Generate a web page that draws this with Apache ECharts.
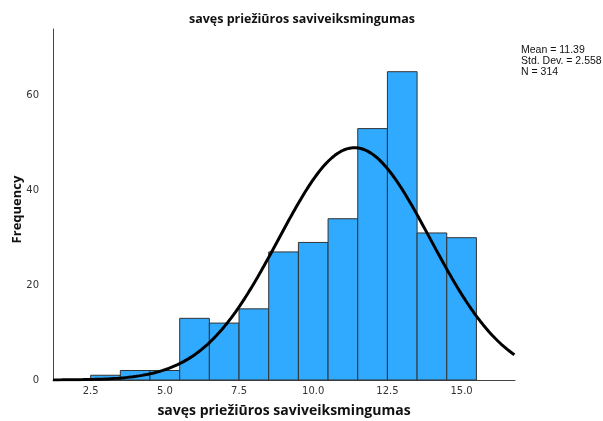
<!DOCTYPE html>
<html>
<head>
<meta charset="utf-8">
<script src="https://cdn.jsdelivr.net/npm/echarts@6/dist/echarts.min.js"></script>
<style>
  html, body { margin: 0; padding: 0; background: #fff; }
  #chart { width: 603px; height: 421px; }
</style>
</head>
<body>
<div id="chart"></div>
<script>
// Histogram bins (score ranges) and their frequencies
const binStarts = [2.5, 3.5, 4.5, 5.5, 6.5, 7.5, 8.5, 9.5, 10.5, 11.5, 12.5, 13.5, 14.5];
const binEnds   = [3.5, 4.5, 5.5, 6.5, 7.5, 8.5, 9.5, 10.5, 11.5, 12.5, 13.5, 14.5, 15.5];
const counts    = [1, 2, 2, 13, 12, 15, 27, 29, 34, 53, 65, 31, 30];

// Descriptive statistics shown beside the plot
const statMean = 11.39;
const statSd = 2.558;
const statN = 314;

const xTicks = [2.5, 5.0, 7.5, 10.0, 12.5, 15.0];
const yTicks = [0, 20, 40, 60];

const xMin = 1.23, xMax = 16.8;
const binWidth = 1;

// Fitted normal curve, scaled to the frequency axis (N * width * density)
const curve = [];
for (let x = xMin; x <= xMax + 1e-9; x += 0.05) {
  const z = (x - statMean) / statSd;
  const y = statN * binWidth * Math.exp(-0.5 * z * z) / (statSd * Math.sqrt(2 * Math.PI));
  curve.push([x, y]);
}

const bars = binStarts.map((s, i) => [s, binEnds[i], counts[i]]);

const chart = echarts.init(document.getElementById('chart'), null, { renderer: 'canvas' });
chart.setOption({
  animation: false,
  backgroundColor: '#fff',
  title: {
    text: 'savęs priežiūros saviveiksmingumas',
    left: 297, top: 8, textAlign: 'center',
    textStyle: { fontFamily: 'Open Sans', fontWeight: 'bold', fontSize: 12.5, color: '#111' }
  },
  grid: { left: 53, right: 88, top: 29, bottom: 41, outerBoundsMode: 'none', containLabel: false },
  xAxis: {
    type: 'value', min: xMin, max: xMax,
    name: 'savęs priežiūros saviveiksmingumas',
    nameLocation: 'middle', nameGap: 24,
    nameTextStyle: { fontFamily: 'Open Sans', fontWeight: 'bold', fontSize: 14, color: '#111' },
    axisLine: { show: true, onZero: false, lineStyle: { color: '#444', width: 1 } },
    axisTick: { show: false },
    splitLine: { show: false },
    axisLabel: {
      customValues: xTicks,
      formatter: v => v.toFixed(1),
      fontFamily: 'DejaVu Sans', fontSize: 10, color: '#333', margin: 6
    }
  },
  yAxis: {
    type: 'value', min: 0, max: 74,
    name: 'Frequency', nameLocation: 'middle', nameGap: 29, nameRotate: 90,
    nameMoveOverlap: false,
    nameTextStyle: { fontFamily: 'Open Sans', fontWeight: 'bold', fontSize: 13, color: '#111', padding: [0, 10, 0, 0] },
    axisLine: { show: true, lineStyle: { color: '#444', width: 1 } },
    axisTick: { show: false },
    splitLine: { show: false },
    axisLabel: {
      customValues: yTicks,
      fontFamily: 'DejaVu Sans', fontSize: 10, color: '#333', margin: 14
    }
  },
  graphic: [{
    type: 'text', left: 521, top: 45,
    style: {
      text: 'Mean = ' + statMean.toFixed(2) + '\nStd. Dev. = ' + statSd.toFixed(3) + '\nN = ' + statN,
      fontFamily: 'Liberation Sans', fontSize: 10.5, lineHeight: 11, fill: '#111'
    }
  }],
  series: [{
    type: 'custom',
    data: bars,
    encode: { x: [0, 1], y: 2 },
    renderItem: function (params, api) {
      const p0 = api.coord([api.value(0), api.value(2)]);
      const p1 = api.coord([api.value(1), 0]);
      return {
        type: 'rect',
        shape: { x: p0[0], y: p0[1], width: p1[0] - p0[0], height: p1[1] - p0[1] },
        style: { fill: '#30aaff', stroke: '#333', lineWidth: 1 }
      };
    },
    z: 2
  }, {
    type: 'line', data: curve, showSymbol: false, smooth: false,
    lineStyle: { color: '#000', width: 3 }, z: 3
  }]
});
</script>
</body>
</html>
